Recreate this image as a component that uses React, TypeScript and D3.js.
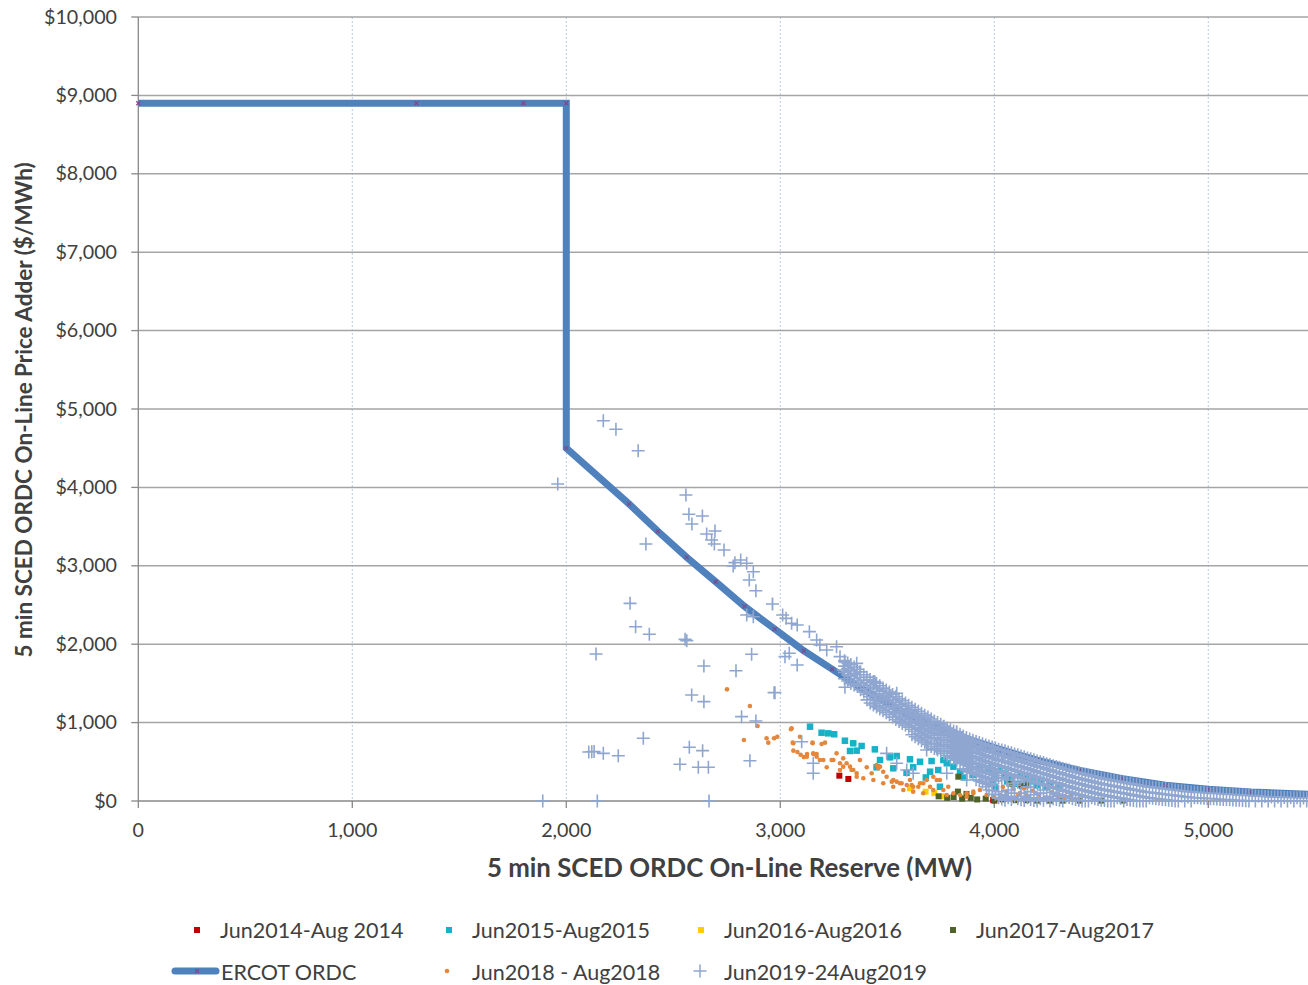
import React from 'react';
import * as d3 from 'd3';

const xTicks = [0, 1000, 2000, 3000, 4000, 5000];
const yTicks = [0, 1000, 2000, 3000, 4000, 5000, 6000, 7000, 8000, 9000, 10000];

const ordcX = [0, 1300, 1800, 2000, 2000, 2293, 2428, 2563, 2698, 2833, 2974, 3110, 3242, 3378, 3512, 3645, 3800, 4000, 4200, 4400, 4600, 4800, 5000, 5200, 5466];
const ordcY = [8900, 8900, 8900, 8900, 4500, 3790, 3440, 3108, 2797, 2482, 2193, 1916, 1682, 1439, 1230, 1034, 860, 680, 520, 390, 285, 200, 150, 115, 85];
const ordcMarkers = [0, 1, 2, 3, 4, 5, 6, 7, 8, 9, 10, 11, 12, 13, 14, 15, 16, 17, 18, 19, 20, 21, 22, 23];

const s2014: [number, number][] = [[3276, 323], [3318, 281], [3995, 13], [4000, 5]];

const s2015: [number, number][] = [
  [3139, 948], [3193, 871], [3224, 863], [3252, 851], [3302, 769], [3341, 736], [3380, 702], [3326, 638], [3357, 642],
  [3442, 659], [3466, 523], [3513, 557], [3544, 574], [3606, 532], [3653, 501], [3707, 510], [3762, 523], [3778, 481],
  [3809, 438], [3887, 459], [3933, 417], [3988, 395], [4027, 387], [3450, 430], [3528, 417], [3621, 430], [3700, 374],
  [3738, 395], [3840, 374], [3902, 332], [3995, 268], [4003, 182], [3746, 182], [4050, 350], [4080, 300], [4120, 330],
  [4150, 280], [4180, 250], [4220, 270], [4260, 220], [4300, 200], [4060, 250], [4110, 220], [3970, 420], [4000, 330],
  [4130, 190], [4200, 200], [4240, 180], [3860, 300], [3680, 300], [3590, 360],
];

const s2016: [number, number][] = [[3606, 162], [3679, 119], [3760, 60], [3850, 40], [3720, 100]];

const s2017: [number, number][] = [
  [3832, 310], [3740, 60], [3780, 40], [3810, 50], [3850, 30], [3890, 40], [3920, 20], [3960, 30], [4000, 15], [4040, 20],
  [4080, 220], [4120, 210], [4150, 200], [4100, 10], [4150, 10], [4200, 5], [4260, 5], [4320, 5], [4400, 5], [4500, 5],
  [4600, 5], [3830, 120], [3870, 90],
];

const s2018: [number, number][] = [
  [2751, 1424], [2858, 1212], [2894, 957], [2830, 778], [2936, 800], [2944, 744], [2971, 800], [2986, 820], [3050, 915],
  [3058, 744], [3061, 642], [3080, 625], [3095, 590], [3110, 560], [3125, 600], [3151, 744], [3193, 727], [3209, 744],
  [3155, 600], [3170, 600], [3201, 523], [3217, 430], [3248, 523], [3263, 608], [3294, 544], [3310, 481], [3341, 395],
  [3372, 523], [3404, 430], [3427, 353], [3466, 438], [3497, 310], [3528, 268], [3559, 226], [3606, 268], [3621, 182],
  [3653, 226], [3684, 268], [3715, 310], [3746, 268], [3762, 140], [3778, 77], [3809, 98], [3840, 77], [3871, 55],
  [3902, 98], [3933, 140], [3964, 77], [3995, 55], [4027, 77], [3279, 395], [3326, 438], [3357, 310], [3388, 290],
  [3435, 268], [3481, 226], [3528, 182], [3575, 140], [3621, 119], [3668, 98], [3715, 140], [3053, 927], [3061, 736],
  [3092, 820], [3151, 736], [3124, 565], [3154, 608], [3170, 565], [3185, 523], [3240, 523], [3279, 481], [3294, 438],
  [3333, 395], [3357, 353], [3450, 459], [3458, 417], [3481, 374], [3521, 247], [3544, 247], [3567, 226], [3591, 204],
  [3614, 204], [3645, 182], [3668, 226], [3700, 182], [3731, 268], [3785, 182], [3871, 98], [3902, 119], [4058, 55],
  [4089, 34], [4112, 77], [4040, 180], [4060, 120], [4090, 150], [4120, 100], [4150, 60], [4180, 130], [4210, 80],
  [4240, 40], [4270, 110], [4300, 60], [4330, 30], [4360, 70], [4390, 20], [4050, 60], [4100, 30], [4140, 160],
  [4200, 20], [4260, 20],
];

const s2019Sparse: [number, number][] = [
  [2173, 4851], [2232, 4741], [2336, 4468], [1960, 4043], [2559, 3903], [2573, 3657], [2636, 3635], [2587, 3533],
  [2656, 3406], [2695, 3444], [2679, 3329], [2692, 3278], [2737, 3202], [2372, 3278], [2788, 3040], [2815, 3074],
  [2780, 2997], [2843, 3032], [2874, 2925], [2855, 2819], [2886, 2682], [2963, 2513], [2843, 2372], [2874, 2351],
  [2298, 2521], [2324, 2223], [2388, 2126], [2555, 2062], [2563, 2045], [2139, 1875], [2866, 1871], [2643, 1722],
  [2793, 1662], [2971, 1382], [2586, 1352], [2643, 1267], [2819, 1076], [2886, 1020], [2360, 800], [2575, 685],
  [2637, 642], [2119, 629], [2105, 625], [2130, 630], [2173, 608], [2243, 578], [2531, 468], [2617, 430], [2664, 430],
  [2858, 514], [1890, 0], [2145, 0], [2667, 0],
  [2964, 2513], [3011, 2372], [3027, 2330], [3053, 2266], [3079, 2245], [3136, 2160], [3170, 2054], [3185, 1990],
  [3217, 1926], [3042, 1884], [3022, 1841], [3079, 1735], [3263, 1968], [3279, 1841], [3302, 1777], [3357, 1756],
  [3294, 1671], [3302, 1450], [3372, 1649], [3404, 1543], [3442, 1522], [3419, 1374], [3442, 1246], [3481, 1416],
  [3513, 1330], [3544, 1374], [3528, 1203], [3559, 1119], [3591, 1161], [3637, 1097], [3653, 991], [3700, 991],
  [3715, 906], [3762, 948], [3793, 864], [3824, 884], [3855, 778], [3902, 736], [3933, 650], [3995, 650], [4042, 565],
  [4089, 523], [2975, 1382], [3100, 756], [3154, 481], [3154, 353], [3497, 608], [3544, 481], [3591, 395], [3621, 353],
  [3684, 650], [3731, 672], [3778, 353], [3840, 481], [3871, 268], [3918, 395], [3964, 182], [3995, 353], [4058, 268],
  [4089, 226],
];

const s2019Band: [number, number[]][] = [
  [3300, [1790, 1720, 1640, 1560]],
  [3330, [1740, 1660, 1590, 1500]],
  [3360, [1680, 1610, 1530, 1460]],
  [3390, [1610, 1540, 1470, 1390]],
  [3420, [1550, 1480, 1400, 1330, 1250]],
  [3450, [1500, 1430, 1350, 1280, 1200]],
  [3480, [1440, 1370, 1300, 1220, 1150]],
  [3510, [1390, 1320, 1250, 1170, 1100]],
  [3540, [1330, 1260, 1190, 1110, 1040]],
  [3570, [1280, 1210, 1140, 1060, 990]],
  [3600, [1220, 1150, 1080, 1010, 940]],
  [3630, [1170, 1100, 1030, 960, 890, 820]],
  [3660, [1120, 1050, 980, 910, 840, 770]],
  [3690, [1070, 1000, 930, 860, 790, 720]],
  [3720, [1020, 950, 880, 810, 740, 670]],
  [3750, [980, 910, 840, 770, 700, 630]],
  [3780, [930, 860, 790, 720, 650, 580]],
  [3810, [890, 820, 750, 680, 610, 540]],
  [3840, [850, 780, 710, 640, 570, 500]],
  [3870, [810, 740, 670, 600, 530, 460, 390]],
  [3900, [775, 705, 635, 565, 495, 425, 355]],
  [3930, [745, 675, 605, 535, 465, 395, 325, 255]],
  [3960, [715, 645, 575, 505, 435, 365, 295, 225]],
  [3990, [690, 620, 550, 480, 410, 340, 270, 200, 130]],
  [4020, [660, 590, 520, 450, 380, 300, 120, 40]],
  [4050, [640, 570, 500, 430, 360, 60, 10]],
  [4080, [615, 545, 475, 405, 335, 100, 20]],
  [4110, [590, 520, 450, 380, 310, 240, 30]],
  [4140, [565, 495, 425, 355, 285, 60, 5]],
  [4170, [540, 470, 400, 330, 260, 120, 20]],
  [4200, [510, 440, 370, 300, 230, 40, 0]],
  [4230, [490, 420, 350, 280, 210, 140, 10]],
  [4260, [465, 395, 325, 255, 185, 60, 0]],
  [4290, [440, 370, 300, 230, 160, 90, 20]],
  [4320, [415, 345, 275, 205, 135, 65, 0]],
  [4350, [395, 325, 255, 185, 115, 45]],
  [4380, [370, 300, 230, 160, 90, 20]],
  [4410, [350, 280, 210, 140, 70, 0]],
  [4440, [330, 260, 190, 120, 50, 0]],
  [4470, [310, 240, 170, 100, 30]],
  [4500, [290, 220, 150, 80, 10]],
  [4530, [275, 205, 135, 65, 0]],
  [4560, [260, 190, 120, 50, 0]],
  [4590, [245, 175, 105, 35]],
  [4620, [230, 160, 90, 20]],
  [4650, [215, 145, 75, 5]],
  [4680, [200, 130, 60, 0]],
  [4710, [185, 115, 45, 0]],
  [4740, [175, 105, 35]],
  [4770, [165, 95, 25]],
  [4800, [155, 85, 15]],
  [4830, [145, 75, 5]],
  [4860, [135, 65, 0]],
  [4890, [125, 55, 0]],
  [4920, [115, 45, 0]],
  [4950, [110, 40]],
  [4980, [105, 35]],
  [5010, [100, 30]],
  [5040, [95, 25]],
  [5070, [90, 20]],
  [5100, [85, 15]],
  [5130, [80, 10]],
  [5160, [75, 5]],
  [5190, [70, 0]],
  [5220, [65, 0]],
  [5250, [60, 0]],
  [5280, [55, 0]],
  [5310, [50, 0]],
  [5340, [48, 0]],
  [5370, [45, 0]],
  [5400, [42, 0]],
  [5430, [40, 0]],
  [5460, [38, 0]],
];

const s2019BandB: [number, number[]][] = [
  [3315, [1760, 1690, 1610, 1530]],
  [3345, [1710, 1630, 1560, 1480]],
  [3375, [1645, 1575, 1500, 1420]],
  [3405, [1580, 1510, 1435, 1360, 1290]],
  [3435, [1525, 1455, 1375, 1300, 1225]],
  [3465, [1470, 1400, 1325, 1250, 1175]],
  [3495, [1415, 1345, 1275, 1195, 1125]],
  [3525, [1360, 1290, 1220, 1140, 1070]],
  [3555, [1305, 1235, 1165, 1085, 1015]],
  [3585, [1250, 1180, 1110, 1035, 965]],
  [3615, [1195, 1125, 1055, 985, 915, 845]],
  [3645, [1145, 1075, 1005, 935, 865, 795]],
  [3675, [1095, 1025, 955, 885, 815, 745]],
  [3705, [1045, 975, 905, 835, 765, 695]],
  [3735, [1000, 930, 860, 790, 720, 650]],
  [3765, [955, 885, 815, 745, 675, 605]],
  [3795, [910, 840, 770, 700, 630, 560]],
  [3825, [870, 800, 730, 660, 590, 520]],
  [3855, [830, 760, 690, 620, 550, 480, 410]],
  [3885, [790, 720, 650, 580, 510, 440, 370]],
  [3915, [760, 690, 620, 550, 480, 410, 340, 270]],
  [3945, [730, 660, 590, 520, 450, 380, 310, 240]],
  [3975, [700, 630, 560, 490, 420, 350, 280, 210, 140]],
  [4005, [675, 605, 535, 465, 395, 325, 255, 85]],
  [4035, [650, 580, 510, 440, 370, 290, 80, 25]],
  [4065, [625, 555, 485, 415, 345, 140, 40]],
  [4095, [600, 530, 460, 390, 320, 200, 60]],
  [4125, [575, 505, 435, 365, 295, 100, 15]],
  [4155, [550, 480, 410, 340, 270, 180, 40]],
  [4185, [525, 455, 385, 315, 245, 80, 5]],
  [4215, [500, 430, 360, 290, 220, 100, 30]],
  [4245, [475, 405, 335, 265, 195, 40]],
  [4275, [450, 380, 310, 240, 170, 110, 30]],
  [4305, [430, 360, 290, 220, 150, 80, 10]],
  [4335, [405, 335, 265, 195, 125, 55]],
  [4365, [380, 310, 240, 170, 100, 30]],
  [4395, [360, 290, 220, 150, 80, 10]],
  [4425, [340, 270, 200, 130, 60, 0]],
  [4455, [320, 250, 180, 110, 40]],
  [4485, [300, 230, 160, 90, 20]],
  [4515, [282, 212, 142, 72, 5]],
  [4545, [268, 198, 128, 58, 0]],
  [4575, [252, 182, 112, 42]],
  [4605, [238, 168, 98, 28, 0]],
  [4635, [222, 152, 82, 12]],
  [4665, [208, 138, 68, 0]],
  [4695, [192, 122, 52, 0]],
  [4725, [180, 110, 40]],
  [4755, [170, 100, 30]],
  [4785, [160, 90, 20]],
  [4815, [150, 80, 10]],
  [4845, [140, 70, 0]],
  [4875, [130, 60]],
  [4905, [120, 50]],
  [4935, [112, 42]],
  [4965, [108, 38]],
  [4995, [102, 32]],
  [5025, [98, 28]],
  [5055, [92, 22]],
  [5085, [88, 18]],
  [5115, [82, 12]],
  [5145, [78, 8]],
  [5175, [72, 2]],
  [5205, [68]],
  [5235, [62]],
  [5265, [58]],
  [5295, [52]],
  [5325, [50]],
  [5355, [46]],
  [5385, [44]],
  [5415, [41]],
  [5445, [39]],
];

const legendRow1 = ['Jun2014-Aug 2014', 'Jun2015-Aug2015', 'Jun2016-Aug2016', 'Jun2017-Aug2017'];
const legendRow2 = ['ERCOT ORDC', 'Jun2018 - Aug2018', 'Jun2019-24Aug2019'];

const C = {
  s2014: '#C00000',
  s2015: '#17B1C9',
  s2016: '#FFCC00',
  s2017: '#4F6228',
  s2018: '#E5863A',
  s2019: '#8FA6D0',
  ordc: '#4F81BD',
  ordcMarker: '#7D4A8F',
  text: '#404040',
  grid: '#A5A5A5',
  vgrid: '#B7C8E6',
};

const FONT = "Lato, 'Noto Sans', sans-serif";

export default function App() {
  const x = d3.scaleLinear().domain([0, 5466]).range([138.3, 1308]);
  const y = d3.scaleLinear().domain([0, 10000]).range([801, 17]);

  const ordcPts: [number, number][] = ordcX.map((v, i) => [v, ordcY[i]]);
  const linePath = d3.line<[number, number]>().x(d => x(d[0])).y(d => y(d[1]))(ordcPts) || '';

  const band: [number, number][] = [];
  s2019Band.forEach(([bx, ys]) => ys.forEach(v => band.push([bx, v])));
  s2019BandB.forEach(([bx, ys]) => ys.forEach(v => band.push([bx, v])));
  const all2019 = [...s2019Sparse, ...band];

  const cs = 6.5;
  const crossPath = (cx: number, cy: number, h: number) => `M${cx - h},${cy}H${cx + h}M${cx},${cy - h}V${cy + h}`;
  const sq = (pts: [number, number][], color: string, s: number) =>
    pts.map((d, i) => <rect key={i} x={x(d[0]) - s / 2} y={y(d[1]) - s / 2} width={s} height={s} fill={color} />);

  const x0 = x(0), x1 = x(5466);

  return (
    <svg width={1308} height={985} style={{ position: 'absolute', left: 0, top: 0 }} fontFamily={FONT}>
      <rect x={0} y={0} width={1308} height={985} fill="#fff" />
      {xTicks.filter(t => t > 0).map(t => (
        <line key={t} x1={x(t)} x2={x(t)} y1={y(10000)} y2={y(0)} stroke={C.vgrid} strokeWidth={1} strokeDasharray="2,2" />
      ))}
      {yTicks.filter(t => t > 0).map(t => (
        <line key={t} x1={x0} x2={x1} y1={y(t)} y2={y(t)} stroke={C.grid} strokeWidth={1.5} />
      ))}
      {yTicks.map(t => (
        <g key={t}>
          <line x1={x0 - 7} x2={x0} y1={y(t)} y2={y(t)} stroke="#888" strokeWidth={1.3} />
          <text x={117} y={y(t) + 6.5} textAnchor="end" fontSize={19.7} fill={C.text}>{'$' + d3.format(',')(t)}</text>
        </g>
      ))}
      {xTicks.map(t => (
        <g key={t}>
          <line x1={x(t)} x2={x(t)} y1={y(0)} y2={y(0) + 7} stroke="#888" strokeWidth={1.3} />
          <text x={x(t)} y={837} textAnchor="middle" fontSize={19.7} fill={C.text}>{d3.format(',')(t)}</text>
        </g>
      ))}
      <line x1={x0} x2={x0} y1={y(10000)} y2={y(0)} stroke="#888" strokeWidth={1.3} />
      <line x1={x0} x2={x1} y1={y(0)} y2={y(0)} stroke="#888" strokeWidth={1.3} />

      <path d={linePath} fill="none" stroke={C.ordc} strokeWidth={7} strokeLinejoin="miter" />
      {ordcMarkers.map(i => {
        const cx = x(ordcX[i]), cy = y(ordcY[i]);
        return <path key={i} d={`M${cx - 2},${cy - 2}L${cx + 2},${cy + 2}M${cx - 2},${cy + 2}L${cx + 2},${cy - 2}`} stroke={C.ordcMarker} strokeWidth={1.2} />;
      })}

      {sq(s2014, C.s2014, 6)}
      {sq(s2015, C.s2015, 6.5)}
      {sq(s2016, C.s2016, 6)}
      {sq(s2017, C.s2017, 6)}
      {s2018.map((d, i) => <circle key={i} cx={x(d[0])} cy={y(d[1])} r={2.3} fill={C.s2018} />)}
      <path d={all2019.map(d => crossPath(x(d[0]), y(d[1]), cs)).join('')} stroke={C.s2019} strokeWidth={1.6} fill="none" />

      <text x={729.5} y={877} textAnchor="middle" fontSize={25.8} fontWeight="bold" fill={C.text}>5 min SCED ORDC On-Line Reserve (MW)</text>
      <text transform="translate(32,410) rotate(-90)" textAnchor="middle" fontSize={22.5} fontWeight="bold" fill={C.text}>5 min SCED ORDC On-Line Price Adder ($/MWh)</text>

      {legendRow1.map((t, i) => {
        const mx = 197 + i * 252;
        const col = [C.s2014, C.s2015, C.s2016, C.s2017][i];
        return (
          <g key={t}>
            <rect x={mx - 3} y={927} width={6} height={6} fill={col} />
            <text x={mx + 23} y={937.5} fontSize={21.5} fill={C.text}>{t}</text>
          </g>
        );
      })}
      <g>
        <line x1={175} x2={216} y1={971} y2={971} stroke={C.ordc} strokeWidth={7} strokeLinecap="round" />
        <path d="M195,969L199,973M195,973L199,969" stroke={C.ordcMarker} strokeWidth={1.2} />
        <text x={221} y={979.5} fontSize={21.5} fill={C.text}>{legendRow2[0]}</text>
      </g>
      <g>
        <circle cx={447} cy={971} r={2.3} fill={C.s2018} />
        <text x={472} y={979.5} fontSize={21.5} fill={C.text}>{legendRow2[1]}</text>
      </g>
      <g>
        <path d={crossPath(700, 971, 6.5)} stroke={C.s2019} strokeWidth={1.5} />
        <text x={724} y={979.5} fontSize={21.5} fill={C.text}>{legendRow2[2]}</text>
      </g>
    </svg>
  );
}
